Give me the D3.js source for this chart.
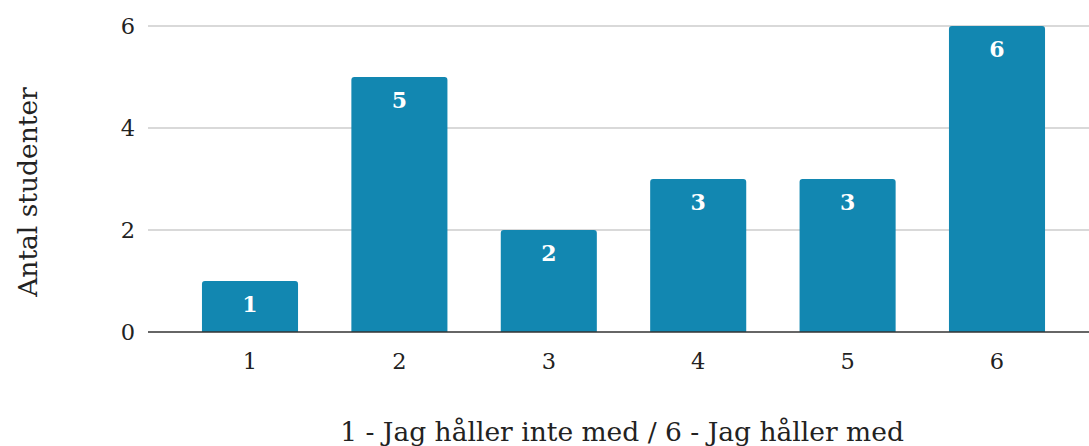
<!DOCTYPE html>
<html>
<head>
<meta charset="utf-8">
<script src="https://cdn.jsdelivr.net/npm/d3@7"></script>
<style>
  html, body { margin: 0; padding: 0; background: #fff; }
  svg { display: block; }
  text { font-family: "DejaVu Serif", Georgia, serif; fill: #222; }
</style>
</head>
<body>
<svg id="chart" width="1089" height="446"></svg>
<script>
// Survey answers: number of students per agreement level
const categories = ["1", "2", "3", "4", "5", "6"];
const counts = [1, 5, 2, 3, 3, 6];
const yTicks = [0, 2, 4, 6];
const xTitle = "1 - Jag håller inte med / 6 - Jag håller med";
const yTitle = "Antal studenter";

const W = 1089, H = 446;
const svg = d3.select("#chart");

const y = d3.scaleLinear().domain([0, 6]).range([332, 26]);
const x = d3.scaleBand().domain(categories).range([175.3, 1071.7])
  .paddingInner(0.357).paddingOuter(0.1785);

const gridLeft = 148;

// Horizontal gridlines
svg.append("g").selectAll("line").data(yTicks.filter(d => d !== 0)).join("line")
  .attr("x1", gridLeft).attr("x2", W)
  .attr("y1", d => y(d)).attr("y2", d => y(d))
  .attr("stroke", "#cccccc").attr("stroke-width", 1.3);

// Y tick labels
svg.append("g").selectAll("text").data(yTicks).join("text")
  .attr("x", 135).attr("y", d => y(d)).attr("dy", "0.36em")
  .attr("text-anchor", "end")
  .style("font-size", "22.5px")
  .text(d => d);

// Bars with rounded top corners
function barPath(x0, w, yTop, yBase, r) {
  r = Math.min(r, w / 2, (yBase - yTop));
  return `M${x0},${yBase}V${yTop + r}Q${x0},${yTop} ${x0 + r},${yTop}` +
    `H${x0 + w - r}Q${x0 + w},${yTop} ${x0 + w},${yTop + r}V${yBase}Z`;
}

const data = categories.map((c, i) => ({ c, v: counts[i] }));

svg.append("g").selectAll("path").data(data).join("path")
  .attr("d", d => barPath(x(d.c), x.bandwidth(), y(d.v), y(0), 3))
  .attr("fill", "#1287b1");

// Value labels inside bars
svg.append("g").selectAll("text").data(data).join("text")
  .attr("x", d => x(d.c) + x.bandwidth() / 2)
  .attr("y", d => y(d.v) + 31)
  .attr("text-anchor", "middle")
  .style("font-size", "22px")
  .style("font-weight", "bold")
  .style("fill", "#ffffff")
  .text(d => d.v);

// Baseline
svg.append("line")
  .attr("x1", gridLeft).attr("x2", W)
  .attr("y1", y(0)).attr("y2", y(0))
  .attr("stroke", "#333333").attr("stroke-width", 1.5);

// X tick labels
svg.append("g").selectAll("text").data(categories).join("text")
  .attr("x", d => x(d) + x.bandwidth() / 2)
  .attr("y", 369)
  .attr("text-anchor", "middle")
  .style("font-size", "22.5px")
  .text(d => d);

// Axis titles
svg.append("text")
  .attr("x", 622).attr("y", 441)
  .attr("text-anchor", "middle")
  .style("font-size", "26.5px")
  .text(xTitle);

svg.append("text")
  .attr("transform", "translate(37,192) rotate(-90)")
  .attr("text-anchor", "middle")
  .style("font-size", "26.5px")
  .text(yTitle);
</script>
</body>
</html>
